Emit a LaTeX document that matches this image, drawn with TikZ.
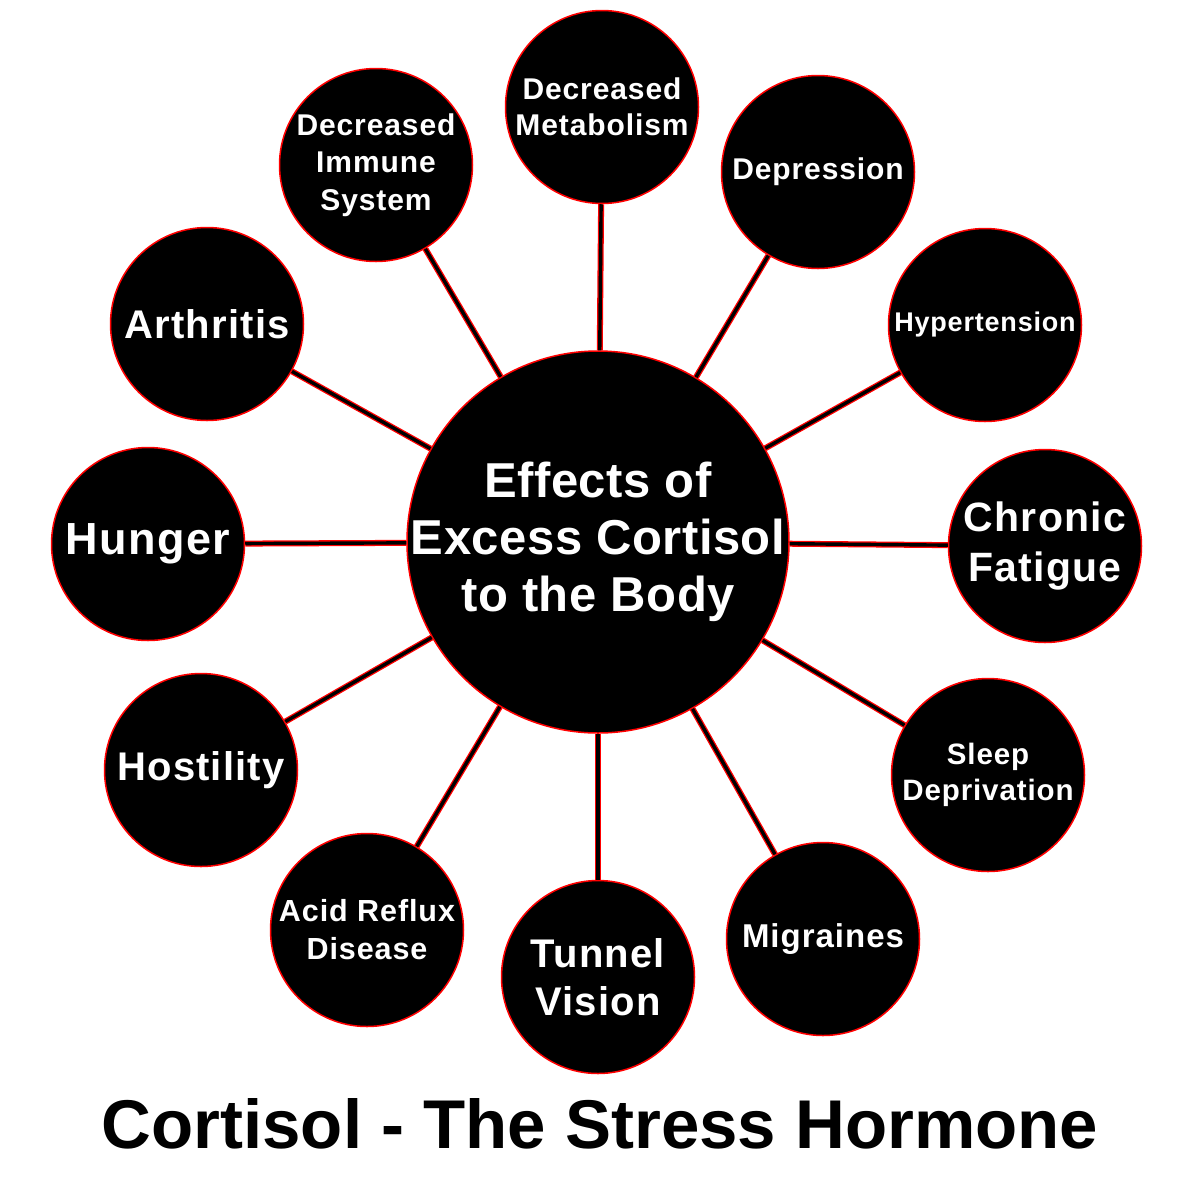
\documentclass[tikz,border=0pt]{standalone}
\usepackage{fontspec}
\setmainfont{Liberation Sans}
\usepackage{tikz}
\usetikzlibrary{positioning}

\begin{document}
\begin{tikzpicture}[x=1pt,y=-1pt,
    disc/.style={circle, fill=black, draw=red, line width=1.5pt,
        inner sep=-40pt, text=white, align=center},
    bubble/.style={disc, minimum size=193pt,
        execute at begin node=\addfontfeatures{LetterSpace=3}},
    hub/.style={disc, minimum size=382pt,
        execute at begin node=\addfontfeatures{LetterSpace=1}},
    link/.style={draw=red, double=black, line width=1.3pt, double distance=3.4pt},
]
\useasboundingbox (0,0) rectangle (1200,1176);
\node[hub, font=\fontsize{49}{57}\selectfont\bfseries] (body) at (598,542)
    {Effects of\\Excess Cortisol\\to the Body};
\node[bubble, font=\fontsize{30}{36}\selectfont\bfseries] (metab) at (602,107) {Decreased\\Metabolism};
\node[bubble, font=\fontsize{30}{36}\selectfont\bfseries] (depr) at (818,172) {Depression};
\node[bubble, font=\fontsize{27}{32}\selectfont\bfseries] (hyper) at (985,325) {Hypertension};
\node[bubble, font=\fontsize{41}{50}\selectfont\bfseries] (fatigue) at (1045,546) {Chronic\\Fatigue};
\node[bubble, font=\fontsize{29.5}{36}\selectfont\bfseries] (sleep) at (988,775) {Sleep\\Deprivation};
\node[bubble, font=\fontsize{33}{40}\selectfont\bfseries] (migr) at (823,939) {Migraines};
\node[bubble, font=\fontsize{40}{48}\selectfont\bfseries] (tunnel) at (598,977) {Tunnel\\Vision};
\node[bubble, font=\fontsize{30.5}{38}\selectfont\bfseries] (acid) at (367,930) {Acid Reflux\\Disease};
\node[bubble, font=\fontsize{40}{48}\selectfont\bfseries] (hostil) at (201,770) {Hostility};
\node[bubble, font=\fontsize{45}{54}\selectfont\bfseries] (hunger) at (148,544) {Hunger};
\node[bubble, font=\fontsize{40}{48}\selectfont\bfseries] (arthr) at (207,324) {Arthritis};
\node[bubble, font=\fontsize{30}{37.5}\selectfont\bfseries] (immune) at (376,165) {Decreased\\Immune\\System};
\draw[link] (body) -- (metab);
\draw[link] (body) -- (depr);
\draw[link] (body) -- (hyper);
\draw[link] (body) -- (fatigue);
\draw[link] (body) -- (sleep);
\draw[link] (body) -- (migr);
\draw[link] (body) -- (tunnel);
\draw[link] (body) -- (acid);
\draw[link] (body) -- (hostil);
\draw[link] (body) -- (hunger);
\draw[link] (body) -- (arthr);
\draw[link] (body) -- (immune);
\node[anchor=base, font=\fontsize{69}{80}\selectfont\bfseries] (title) at (600,1148)
    {Cortisol - The Stress Hormone};
\end{tikzpicture}
\end{document}
